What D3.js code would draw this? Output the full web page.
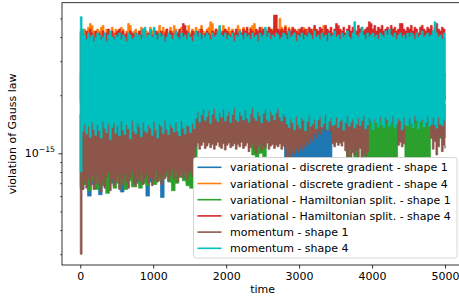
<!DOCTYPE html>
<html><head><meta charset="utf-8">
<script src="https://cdn.jsdelivr.net/npm/d3@7"></script>
<style>body{margin:0;background:#fff} svg{display:block} text{font-family:"DejaVu Sans",sans-serif;fill:#000}</style>
</head><body><svg id="c" width="459" height="301"></svg>
<script>
// Envelopes (min / max of each series), in units of 1e-16.
// Each array covers t = 0..5000 evenly: 201 values -> every 25, 101 -> every 50, 11 -> every 500.
const U = 1e-16;
const tMax = 5000;

const cyanHi = [
 51,44,41,39,42,40,41,38,40,42, 41,39,40,42,38,41,43,40,39,41,
 40,42,39,41,40,38,42,41,39,40, 42,40,41,39,44,45,40,41,44,40,
 45,41,39,42,40,41,38,40,42,41, 39,41,43,40,39,42,40,41,39,42,
 40,38,41,43,40,42,39,41,40,42, 41,39,42,40,41,43,46,41,40,42,
 39,41,40,42,38,41,40,43,41,39, 42,40,41,39,42,40,41,38,42,40,
 41,45,40,42,39,41,40,42,41,39, 40,42,41,39,43,40,41,42,38,41,
 40,42,39,41,40,42,41,39,43,40, 41,39,42,40,41,38,42,40,41,43,
 40,41,39,42,40,41,43,40,39,42, 48,41,40,42,45,41,39,42,40,41,
 42,40,41,39,42,41,40,43,41,44, 41,40,42,39,41,42,40,41,39,42,
 40,42,41,39,42,40,41,43,40,41, 42,40,41,43,48,42,40,41,39,42,
 40];
const cyanLo = [
 8,13.0,14.2,12.6,13.8,12.1,14.5,13.3,12.4,14.0, 13.1,12.0,14.6,13.5,12.8,14.2,11.8,13.6,14.4,12.7,
 13.9,12.3,14.7,13.2,12.5,14.1,13.4,11.9,14.8,13.0, 12.6,14.3,13.7,12.2,14.5,13.1,12.8,14.0,13.5,12.4,
 14.6,13.2,12.0,14.2,13.8,12.7,14.9,13.3,12.5,14.1, 13.6,12.9,14.4,13.0,12.3,14.7,13.5,12.6,14.0,13.8,
 12.8,14.3,13.4,15.2,16.4,14.5,15.8,16.9,14.8,15.5, 16.6,14.3,15.9,17.0,15.1,14.6,16.2,15.4,16.8,14.7,
 15.6,16.5,14.4,15.9,17.1,15.0,14.6,16.3,15.7,14.9, 16.7,15.2,14.5,16.0,17.2,15.3,14.8,16.4,15.6,14.4,
 16.1,16.9,15.0,14.6,16.5,15.8,14.9,16.2,17.0,15.4, 14.7,16.0,15.5,14.2,13.6,15.1,14.4,13.2,15.6,14.0,
 13.5,15.3,14.8,13.1,14.6,15.7,13.8,14.2,15.0,13.4, 14.9,15.5,13.7,14.3,15.8,13.3,14.6,15.2,13.9,14.1,
 15.4,13.6,14.7,15.0,13.2,14.4,15.6,13.8,14.5,15.1, 13.5,14.2,15.3,13.9,14.8,15.7,13.4,14.0,15.2,14.6,
 13.3,15.0,14.4,13.7,15.5,14.1,13.6,15.4,14.9,13.8, 14.5,15.6,13.5,14.2,15.1,14.7,13.2,15.3,14.0,13.9,
 15.2,14.3,13.6,15.7,14.8,13.4,14.6,15.0,13.7,14.4, 15.5,13.8,14.1,15.3,14.0,13.5,15.4,14.2,13.9,15.0,
 14.5];
const orangeHi = [
 42,43,44,42,45,47,46,43,41,44, 43,45,46,42,44,41,43,45,42,44,
 43,42,45,44,41,43,47,46,42,43, 44,42,43,45,41,44,43,42,45,43,
 44,41,43,46,42,45,43,44,42,45, 43,46,44,42,43,45,41,44,43,46,
 42,44,43,45,42,44,46,43,41,44, 45,48,47,43,44,42,45,43,46,44,
 42,45,43,44,41,43,46,44,42,45, 43,44,42,45,46,47,43,42,44,45,
 43,44,42,45,43,44,46,43,42,50, 45,44,46,43,45,42,44,43,41,44,
 42,43,45,41,44,42,43,44,41,42, 41,40,42,46,40,41,39,42,40,41,
 40,42,41,39,40,41,42,40,39,41, 40,41,39,42,40,41,40,39,41,42,
 40,39,41,40,42,41,39,40,41,40, 41,40,42,39,41,40,41,42,40,39,
 41,40,39,41,42,40,41,39,40,42, 40,41,39,42,40,41,40,39,41,40,
 40];
const redHi = [
 43,42,40,43,41,44,42,40,43,41, 42,40,43,41,42,44,41,43,40,42,
 43,44,42,43,41,42,40,43,42,41, 42,40,43,41,44,42,40,42,43,41,
 40,43,42,41,43,40,42,44,41,43, 42,41,43,42,44,41,47,46,43,42,
 41,43,42,40,43,42,44,41,42,43, 42,41,43,42,44,43,41,42,43,44,
 43,42,41,43,42,44,42,43,42,44, 43,45,42,44,43,42,44,43,45,43,
 44,42,43,45,44,43,52,52,44,43, 44,43,45,42,44,43,45,44,43,42,
 44,45,43,44,42,45,44,43,46,44, 43,45,44,42,46,44,43,45,42,44,
 47,46,44,43,45,42,44,46,43,45, 44,43,46,44,45,43,44,45,48,47,
 44,46,43,45,44,46,43,44,45,43, 46,44,45,43,44,47,47,44,43,45,
 44,46,43,45,44,42,45,46,44,43, 45,44,46,43,45,47,44,43,45,44,
 43];
const brownLo = [
 3.0,6.5,7.1,6.6,7.4,6.8,7.6,6.5,7.0,7.8, 6.9,6.3,7.2,6.6,7.5,8.0,6.4,7.3,6.8,7.1,
 7.7,6.5,7.4,6.9,7.9,7.1,6.6,7.5,8.1,7.0, 6.7,7.6,7.2,8.0,6.9,7.4,7.8,7.0,7.5,6.8,
 7.3,8.2,7.1,7.6,6.9,7.8,7.4,8.1,7.2,7.7, 8.3,7.4,7.9,7.1,7.6,8.2,7.5,8.0,7.3,7.8,
 8.1,7.6,8.4,10.8,11.3,10.5,11.0,11.4,10.6,10.9, 11.3,10.7,11.1,10.5,11.0,11.4,10.8,10.6,11.2,10.4,
 11.0,11.3,10.7,10.9,11.2,10.5,11.1,10.8,11.4,10.6, 10.9,11.3,10.2,10.7,11.1,10.5,10.0,10.8,11.2,10.4,
 11.0,10.7,11.3,10.5,10.9,11.1,10.6,11.0,10.8,11.2, 10.5,10.9,10.7,9.4,9.8,9.5,10.2,9.9,10.6,10.1,
 10.9,10.4,11.3,10.8,11.7,11.2,12.1,11.6,12.6,12.0, 13.0,12.5,13.5,13.2,13.6,13.1,13.4,13.0,11.2,10.8,
 11.4,11.0,11.3,10.9,11.5,10.3,9.6,10.5,9.2,10.1, 9.8,10.4,9.5,10.6,9.3,10.0,9.7,10.2,14.5,15.0,
 14.2,14.8,15.3,14.4,14.9,15.1,14.6,14.3,15.0,14.7, 15.2,14.5,14.9,14.3,11.0,11.4,10.8,11.2,14.6,15.0,
 14.3,14.8,15.2,14.5,14.9,14.4,15.1,14.7,14.6,15.0, 14.2,14.8,12.0,10.5,11.5,9.8,10.8,12.2,10.2,11.0,
 10.6];
const greenLo = [6.8,
 6.9,6.4,7.2,6.5,7.0,6.8,6.2,7.3,6.6,7.0,
 6.9,6.5,7.2,6.7,7.4,6.6,7.0,6.8,7.5,6.9,
 7.2,7.3,7.6,7.1,6.4,7.0,7.5,7.2,6.8,6.6,
 7.4,
 11.5,11.8,11.6,11.9,11.7,11.5,11.8,11.6,11.9,11.7,
 11.5,11.8,11.6,11.9,11.7,9.8,9.5,10.0,9.6,11.7,
 11.5,11.8,11.6,11.9,
 14,14,14,14,14,14,14,14,14,14,14,14,14,14,14,14,14,
 8.5,12,8.8,12,8.6,9.0,
 8.6,8.4,8.8,8.5,8.7,8.4,8.6,8.9,
 12,12,
 8.5,8.7,8.4,8.8,8.6,8.5,8.7,
 12,12,12,12,12];
const blueLo = [6.5,
 7.0,6.0,6.9,7.1,6.1,6.9,7.3,7.0,7.2,7.4,
 6.3,7.0,7.3,7.4,7.0,7.2,7.6,6.0,7.1,7.3,
 7.5,5.9,7.8,7.3,7.0,7.5,7.7,7.4,7.0,7.6,
 7.2,
 12,12,12,12,12,12,12,12,12,12,12,12,12,12,12,12,12,12,12,12,12,12,12,12,
 8.5,8.5,8.5,8.5,8.5,8.5,8.5,8.5,8.5,8.5,8.5,8.5,8.5,
 12,12,12,12,12,12,12,12,12,12,12,12,12,12,12,12,
 12,12,12,12,12,12,12,12,12,12,12,12,12,12,12,12];
// envelopes that stay hidden behind other series
const orangeLo = [18,19,18,20,19,18,19,20,18,19,19];
const redLo    = [19,18,20,19,18,20,19,18,19,20,19];
const brownHi  = [26,25,27,26,25,26,27,25,26,25,26];
const greenHi  = [16,17,18,18,19,18,18,19,18,18,18];
const blueHi   = [16,17,18,18,19,18,18,19,18,18,18];

const seriesNames = ["variational - discrete gradient - shape 1","variational - discrete gradient - shape 4",
 "variational - Hamiltonian split. - shape 1","variational - Hamiltonian split. - shape 4",
 "momentum - shape 1","momentum - shape 4"];
const seriesColors = ["#1f77b4","#ff7f0e","#2ca02c","#d62728","#8c564b","#00bfbf"];
const seriesLo = [blueLo, orangeLo, greenLo, redLo, brownLo, cyanLo];
const seriesHi = [blueHi, orangeHi, greenHi, redHi, brownHi, cyanHi];

const xTicks = [0,1000,2000,3000,4000,5000];
const yMinorTicks = [3e-16,4e-16,5e-16,6e-16,7e-16,8e-16,9e-16,2e-15,3e-15,4e-15,5e-15];

const svg = d3.select("#c");
const L = 62, R = 463.25, T = 2.7, B = 265;
const x = d3.scaleLinear().domain([-250, 5250]).range([L, R]);
const y = d3.scaleLog().domain([2.638e-16, 6.03e-15]).range([B, T]);

svg.append("defs").append("clipPath").attr("id","pc").append("rect")
  .attr("x",L).attr("y",T).attr("width",R-L).attr("height",B-T);

const nS = cyanHi.length, dt = tMax/(nS-1);
const val = (arr,t) => { const st = tMax/(arr.length-1); return arr[Math.min(arr.length-1, Math.floor(t/st + 1e-9))]; };
const area = d3.area().curve(d3.curveStepAfter)
  .x(d => x(d.t)).y0(d => y(d.lo*U)).y1(d => y(d.hi*U));

const g = svg.append("g").attr("clip-path","url(#pc)");
seriesNames.forEach((name,k) => {
  const data = d3.range(nS).map(j => { const t = j*dt; return {t, lo: val(seriesLo[k],t), hi: val(seriesHi[k],t)}; });
  g.append("path").attr("d", area(data)).attr("fill", seriesColors[k])
    .attr("stroke", seriesColors[k]).attr("stroke-width", 0.7);
});

// axes
const xAxis = d3.axisBottom(x).tickValues(xTicks).tickSize(3.5).tickPadding(3.5).tickFormat(d3.format("d"));
const gx = svg.append("g").attr("transform",`translate(0,${B})`).call(xAxis);
gx.select(".domain").remove();
gx.selectAll("line").attr("stroke","#000").attr("stroke-width",0.8);
gx.selectAll("text").attr("font-size",11).attr("font-family","DejaVu Sans");

const gy = svg.append("g").attr("transform",`translate(${L},0)`).call(d3.axisLeft(y).tickValues(yMinorTicks).tickSize(2).tickFormat(""));
gy.select(".domain").remove();
gy.selectAll("line").attr("stroke","#000").attr("stroke-width",0.6);
const gy2 = svg.append("g").attr("transform",`translate(${L},0)`).call(d3.axisLeft(y).tickValues([1e-15]).tickSize(3.5).tickFormat(""));
gy2.select(".domain").remove();
gy2.selectAll("line").attr("stroke","#000").attr("stroke-width",0.8);
const lab = svg.append("text").attr("x", L-7).attr("y", y(1e-15)+4).attr("text-anchor","end").attr("font-size",11);
lab.append("tspan").text("10");
lab.append("tspan").attr("font-size",7.7).attr("dy",-5).text("\u221215");

// spines
svg.append("rect").attr("x",L).attr("y",T).attr("width",R-L).attr("height",B-T)
  .attr("fill","none").attr("stroke","#000").attr("stroke-width",0.8);

// labels
svg.append("text").attr("x",(L+R)/2).attr("y",293).attr("text-anchor","middle").attr("font-size",11).text("time");
svg.append("text").attr("transform",`translate(16,${(T+B)/2}) rotate(-90)`).attr("text-anchor","middle").attr("font-size",11).text("violation of Gauss law");

// legend
const lg = svg.append("g");
lg.append("rect").attr("x",193.5).attr("y",157.5).attr("width",263.5).attr("height",100.5).attr("rx",2.5)
  .attr("fill","#fff").attr("stroke","#cccccc").attr("stroke-width",0.8);
seriesNames.forEach((name,k) => {
  const yy = 167.3 + 16.2*k;
  lg.append("line").attr("x1",197.5).attr("x2",221.5).attr("y1",yy).attr("y2",yy)
    .attr("stroke",seriesColors[k]).attr("stroke-width",1.6);
  lg.append("text").attr("x",230).attr("y",yy+4).attr("font-size",11).text(name);
});
</script></body></html>
